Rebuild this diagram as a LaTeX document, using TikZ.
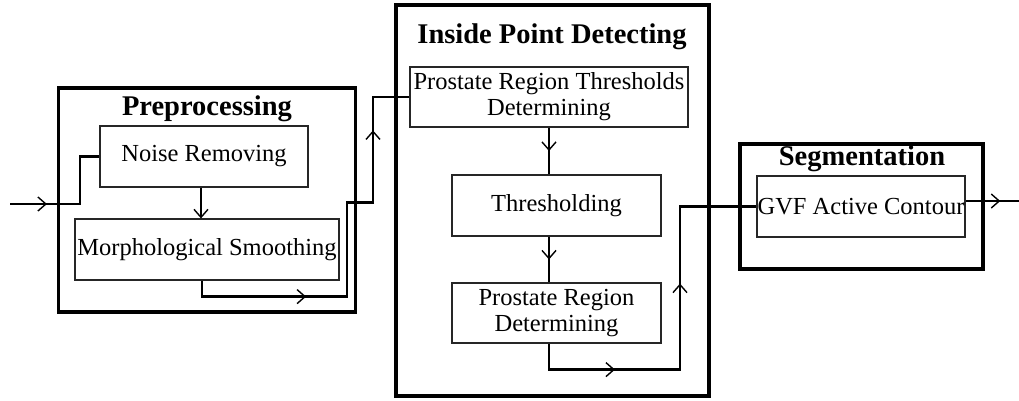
\documentclass[tikz,border=0pt]{standalone}
\usepackage{fontspec}
\setmainfont{Liberation Serif}
\usetikzlibrary{arrows.meta,decorations.markings}
\tikzset{
  tip/.tip={Straight Barb[length=8pt,width=14pt,line width=1.4pt]},
  arrowat/.style={postaction={decorate},decoration={markings,mark=at position #1 with {\arrow{tip}}}},
  arrowsat/.style 2 args={postaction={decorate},decoration={markings,
    mark=at position #1 with {\arrow{tip}},mark=at position #2 with {\arrow{tip}}}},
}
\begin{document}
\begin{tikzpicture}[x=1pt,y=-1pt,
  outer/.style={draw,line width=3.5pt,inner sep=0pt},
  block/.style={draw=black!85,line width=1.2pt,fill=white,align=center,inner sep=0pt,
    font=\fontsize{24.5}{26}\selectfont},
  title/.style={inner sep=0pt,anchor=base,font=\fontsize{28.5}{30}\selectfont\bfseries},
  conn/.style={line width=2.3pt}]
\useasboundingbox (0,0) rectangle (1019,400);
% stages
\node[outer,minimum width=297pt,minimum height=224pt] (pre) at (207,200) {};
\node[outer,minimum width=313pt,minimum height=391pt] (ipd) at (552.5,200.5) {};
\node[outer,minimum width=243pt,minimum height=125pt] (seg) at (861.5,206.5) {};
\node[title] (pretitle) at (207,115) {Preprocessing};
\node[title] (ipdtitle) at (552,43) {Inside Point Detecting};
\node[title] (segtitle) at (862,165) {Segmentation};
% blocks
\node[block,minimum width=208pt,minimum height=61pt] (nr) at (204,156.5) {Noise Removing};
\node[block,minimum width=264pt,minimum height=61pt] (ms) at (207,249.5) {Morphological Smoothing};
\node[block,minimum width=278pt,minimum height=60pt] (prt) at (549,97) {Prostate Region Thresholds\\Determining};
\node[block,minimum width=209pt,minimum height=61pt] (thr) at (556.5,205.5) {Thresholding};
\node[block,minimum width=209pt,minimum height=60pt] (prd) at (556.5,313) {Prostate Region\\Determining};
\node[block,minimum width=208pt,minimum height=61pt] (gvf) at (861,206.5) {GVF Active Contour};
\coordinate (in) at (10,204);
\coordinate (out) at (1019,201);
% connectors
\draw[conn,arrowat=0.27] (in) -- ++(70,0) |- (nr.west);
\draw[conn,-tip] ([xshift=-3pt]nr.south) -- ([xshift=-3pt]nr.south |- ms.north);
\draw[conn,arrowsat={0.284}{0.835}] ([xshift=-5pt]ms.south) -- ++(0,16) -- ++(145,0) -- ++(0,-94) -- ++(26,0) |- (prt.west);
\draw[conn,arrowat=0.5] (prt.south) -- (prt.south |- thr.north);
\draw[conn,arrowat=0.5] (prt.south |- thr.south) -- (prt.south |- prd.north);
\draw[conn,arrowsat={0.232}{0.613}] (prt.south |- prd.south) -- ++(0,26) -- ++(131,0) |- (gvf.west);
\draw[conn,arrowat=0.65] ([yshift=5.5pt]gvf.east) -- (out);
\end{tikzpicture}
\end{document}
